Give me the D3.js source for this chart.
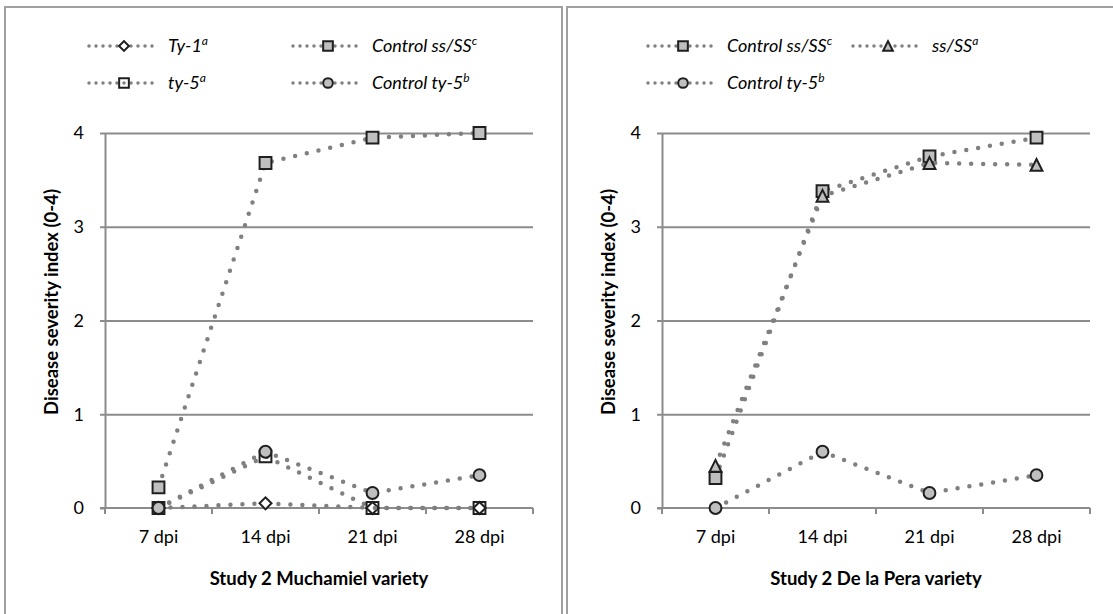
<!DOCTYPE html>
<html>
<head>
<meta charset="utf-8">
<script src="https://cdn.jsdelivr.net/npm/d3@7"></script>
<style>
  body { margin: 0; background: #fff; }
  svg text { font-family: Lato, "Open Sans", sans-serif; fill: #000; }
</style>
</head>
<body>
<svg id="chart" width="1113" height="614"></svg>
<script>

// categories and ticks
const days = ["7 dpi", "14 dpi", "21 dpi", "28 dpi"];
const yTicks = [0, 1, 2, 3, 4];

// Study 2 Muchamiel variety
const muchTy1 = [0, 0.05, 0, 0];
const muchTy5 = [0, 0.55, 0, 0];
const muchCtrlSS = [0.22, 3.68, 3.95, 4.0];
const muchCtrlTy5 = [0, 0.6, 0.16, 0.35];

// Study 2 De la Pera variety
const peraCtrlSS = [0.32, 3.38, 3.75, 3.95];
const peraSS = [0.45, 3.33, 3.68, 3.66];
const peraCtrlTy5 = [0, 0.6, 0.16, 0.35];

const svg = d3.select("#chart");

const gridColor = "#8c8c8c";
const lineColor = "#808080";
const markerStroke = "#1f1f1f";
const grayFill = "#bfbfbf";

// Excel style triangle (width == height)
const triangle = {
    draw(ctx, size) {
        const r = Math.sqrt(size) / 2;
        ctx.moveTo(0, -r);
        ctx.lineTo(r, r);
        ctx.lineTo(-r, r);
        ctx.closePath();
    }
};

const markers = {
    diamond: { type: d3.symbolSquare, size: 72, rotate: 45, fill: "#fff" },
    square: { type: d3.symbolSquare, size: 140, rotate: 0, fill: grayFill },
    hollow: { type: d3.symbolSquare, size: 140, rotate: 0, fill: "none" },
    circle: { type: d3.symbolCircle, size: 110, rotate: 0, fill: grayFill },
    triangle: { type: triangle, size: 140, rotate: 0, fill: grayFill }
};

function drawMarker(g, kind, x, y, scale = 1) {
    const m = markers[kind];
    g.append("path")
        .attr("d", d3.symbol().type(m.type).size(m.size * scale * scale)())
        .attr("transform", `translate(${x},${y}) rotate(${m.rotate})`)
        .attr("fill", m.fill)
        .attr("stroke", markerStroke)
        .attr("stroke-width", 2);
}

function drawPanel(opts) {
    const g = svg.append("g");

    // panel frame
    g.append("rect")
        .attr("x", opts.frameX)
        .attr("y", 7)
        .attr("width", opts.frameW)
        .attr("height", 640)
        .attr("fill", "none")
        .attr("stroke", "#a0a0a0")
        .attr("stroke-width", 2);

    const x = d3.scaleBand()
        .domain(days)
        .range([opts.left, opts.left + 428]);

    const y = d3.scaleLinear()
        .domain([0, 4])
        .range([508, 133]);

    const cx = d => x(d) + x.bandwidth() / 2;

    // gridlines
    g.append("g")
        .attr("transform", `translate(${opts.left},0)`)
        .call(d3.axisLeft(y).tickValues(yTicks.slice(1)).tickSize(-428).tickFormat(""))
        .call(a => a.select(".domain").remove())
        .call(a => a.selectAll("line").attr("stroke", gridColor).attr("stroke-width", 2));

    // y axis
    g.append("g")
        .attr("transform", `translate(${opts.left},0)`)
        .call(d3.axisLeft(y).tickValues(yTicks).tickFormat(d3.format("d"))
            .tickSize(5).tickPadding(16).tickSizeOuter(0))
        .call(a => a.select(".domain").attr("stroke", gridColor).attr("stroke-width", 2))
        .call(a => a.selectAll("line").attr("stroke", gridColor).attr("stroke-width", 2))
        .call(a => a.selectAll("text").style("font-size", "18px"));

    // x axis: labels at category centres, tick marks between categories
    const xa = g.append("g")
        .attr("transform", `translate(0,${y(0)})`)
        .call(d3.axisBottom(x).tickSize(0).tickPadding(22).tickSizeOuter(0))
        .call(a => a.select(".domain").remove())
        .call(a => a.selectAll("text").style("font-size", "18px"));

    xa.append("line")
        .attr("x1", opts.left - 5)
        .attr("x2", opts.left + 428)
        .attr("stroke", gridColor)
        .attr("stroke-width", 2);

    xa.selectAll(".sep")
        .data(d3.range(days.length + 1))
        .enter()
        .append("line")
        .attr("x1", i => opts.left + i * x.step())
        .attr("x2", i => opts.left + i * x.step())
        .attr("y1", 0)
        .attr("y2", 6)
        .attr("stroke", gridColor)
        .attr("stroke-width", 2);

    // axis titles
    g.append("text")
        .attr("text-anchor", "middle")
        .attr("x", opts.left + 214)
        .attr("y", 585)
        .style("font-size", "18.5px")
        .style("font-weight", "bold")
        .text(opts.title);

    g.append("text")
        .attr("text-anchor", "middle")
        .attr("transform", `translate(${opts.left - 47},302) rotate(-90)`)
        .style("font-size", "18.5px")
        .style("font-weight", "bold")
        .text("Disease severity index (0-4)");

    // series: straight dotted segments
    const line = d3.line()
        .x((d, i) => cx(days[i]))
        .y(d => y(d));

    opts.series.forEach(s => {
        g.append("path")
            .datum(s.values)
            .attr("d", line)
            .attr("fill", "none")
            .attr("stroke", lineColor)
            .attr("stroke-width", 4.5)
            .attr("stroke-linecap", "round")
            .attr("stroke-dasharray", "0 12");
        s.values.forEach((v, i) => drawMarker(g, s.marker, cx(days[i]), y(v)));
    });

    // legend
    opts.series.forEach(s => {
        const lg = g.append("g").attr("transform", `translate(${s.lx},${s.ly})`);
        lg.append("line")
            .attr("x1", 0)
            .attr("x2", 64)
            .attr("stroke", lineColor)
            .attr("stroke-width", 3.5)
            .attr("stroke-linecap", "round")
            .attr("stroke-dasharray", "0 7");
        drawMarker(lg, s.marker, 35, 0, 0.82);
        const t = lg.append("text")
            .attr("x", 79)
            .attr("y", 6)
            .style("font-size", "18px")
            .style("font-style", "italic");
        t.append("tspan").text(s.name);
        t.append("tspan")
            .attr("dy", -7)
            .style("font-size", "12px")
            .text(s.sup);
    });
}

drawPanel({
    frameX: 5,
    frameW: 557,
    left: 105,
    title: "Study 2 Muchamiel variety",
    series: [
        { name: "Ty-1", sup: "a", values: muchTy1, marker: "diamond", lx: 89, ly: 46 },
        { name: "Control ss/SS", sup: "c", values: muchCtrlSS, marker: "square", lx: 293, ly: 46 },
        { name: "ty-5", sup: "a", values: muchTy5, marker: "hollow", lx: 89, ly: 83 },
        { name: "Control ty-5", sup: "b", values: muchCtrlTy5, marker: "circle", lx: 293, ly: 83 }
    ]
});

drawPanel({
    frameX: 567,
    frameW: 600,
    left: 662,
    title: "Study 2 De la Pera variety",
    series: [
        { name: "Control ss/SS", sup: "c", values: peraCtrlSS, marker: "square", lx: 648, ly: 46 },
        { name: "ss/SS", sup: "a", values: peraSS, marker: "triangle", lx: 853, ly: 46 },
        { name: "Control ty-5", sup: "b", values: peraCtrlTy5, marker: "circle", lx: 648, ly: 83 }
    ]
});

</script>
</body>
</html>
